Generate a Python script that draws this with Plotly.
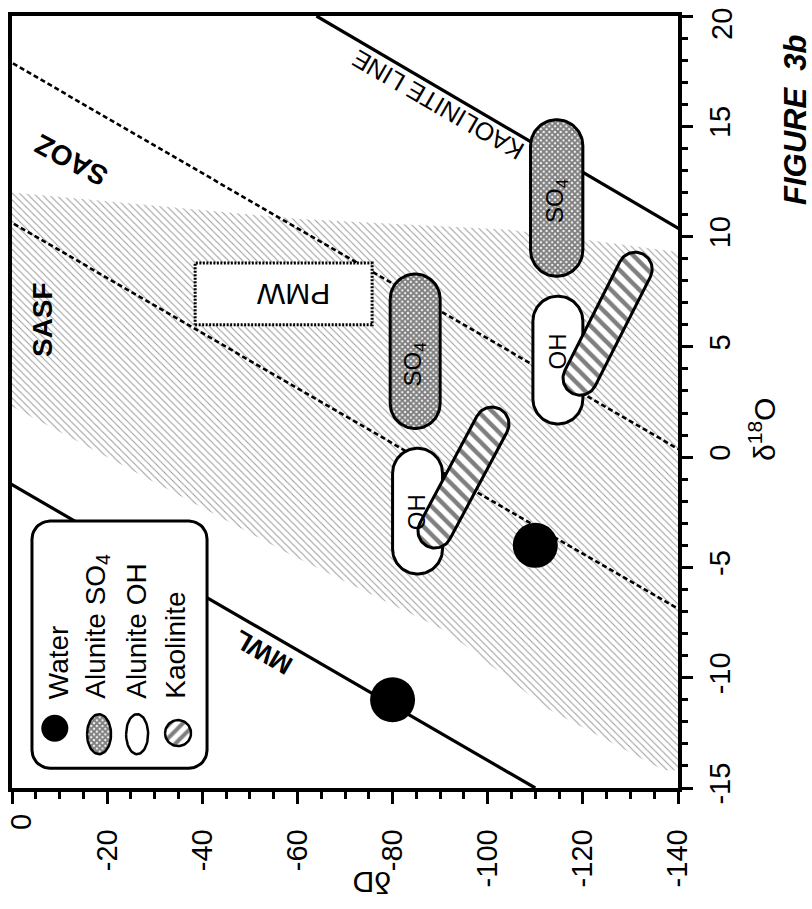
import numpy as np
import plotly.graph_objects as go

# ---------------------------------------------------------------- canvas
FIG_W, FIG_H = 812, 909
M_L, M_R, M_T, M_B = 12, 134, 16, 121
PLOT_W = FIG_W - M_L - M_R
PLOT_H = FIG_H - M_T - M_B

DD_RANGE = [0, -140]        # horizontal axis (deltaD)
D18O_RANGE = [-15, 20]      # vertical axis (delta18O), drawn on the right
KX = PLOT_W / abs(DD_RANGE[1] - DD_RANGE[0])    # px per permil deltaD
KY = PLOT_H / abs(D18O_RANGE[1] - D18O_RANGE[0])  # px per permil delta18O

FONT = "Liberation Sans, Arial, Helvetica, sans-serif"

# ---------------------------------------------------------------- data
DD_TICKS = [0, -20, -40, -60, -80, -100, -120, -140]
DD_TICK_TEXT = ["0", "-20", "-40", "-60", "-80", "-100", "-120", "-140"]
D18O_TICKS = [-15, -10, -5, 0, 5, 10, 15, 20]
D18O_TICK_TEXT = ["-15", "-10", "-5", "0", "5", "10", "15", "20"]

# water compositions
WATER_DD = [-80, -110]
WATER_D18O = [-11, -4]

# reference lines: deltaD = slope * delta18O + intercept
MWL_SLOPE, MWL_INTERCEPT = 8.0, 10.0
KAOL_SLOPE, KAOL_INTERCEPT = 7.9, -222.0
SAOZ_SLOPE, SAOZ_INTERCEPT = 8.0, -143.0
SASF_SLOPE, SASF_INTERCEPT = 8.0, -85.0

# alunite SO4 fields (deltaD range, delta18O range)
SO4_DD = [(-109.0, -120.0), (-79.5, -90.0)]
SO4_D18O = [(8.2, 15.3), (1.3, 8.3)]
# alunite OH fields
OH_DD = [(-80.0, -90.5), (-109.5, -120.0)]
OH_D18O = [(-5.3, 0.4), (1.5, 7.3)]
# kaolinite fields: end points of the elongated field (deltaD, delta18O)
KAOL_DD = [(-88.9, -100.9), (-119.4, -131.0)]
KAOL_D18O = [(-3.35, 1.5), (3.58, 8.52)]
# primary magmatic water box
PMW_DD = (-38.5, -75.7)
PMW_D18O = (6.0, 8.8)
# supergene alunite stippled field outline
STIPPLE_DD = [0, -60.5, -105, -140, -140, -137, -112.5, -91.4, -58.4, 0]
STIPPLE_D18O = [12.0, 10.8, 10.3, 9.3, -14.2, -14.2, -11.4, -7.9, -4.4, 2.3]


# ---------------------------------------------------------------- helpers
def to_px(dd, d18o):
    return np.asarray(dd) * KX, np.asarray(d18o) * KY


def from_px(u, v):
    return np.asarray(u) / KX, np.asarray(v) / KY


def stadium(c1, c2, r, n=40):
    """Capsule outline between two centre points, radius r in pixels."""
    (u1, v1), (u2, v2) = to_px(*c1), to_px(*c2)
    a = np.arctan2(v2 - v1, u2 - u1)
    t = np.linspace(-np.pi / 2, np.pi / 2, n)
    us = np.concatenate([u2 + r * np.cos(a + t), u1 + r * np.cos(a + np.pi + t)])
    vs = np.concatenate([v2 + r * np.sin(a + t), v1 + r * np.sin(a + np.pi + t)])
    us, vs = np.append(us, us[0]), np.append(vs, vs[0])
    return from_px(us, vs)


def field_capsule(dd_rng, d18o_rng):
    r = abs(dd_rng[0] - dd_rng[1]) * KX / 2
    m = (dd_rng[0] + dd_rng[1]) / 2
    lo, hi = min(d18o_rng) + r / KY, max(d18o_rng) - r / KY
    return stadium((m, lo), (m, hi), r)


def ellipse(c, rx, ry, n=60):
    u0, v0 = to_px(*c)
    t = np.linspace(0, 2 * np.pi, n)
    return from_px(u0 + rx * np.cos(t), v0 + ry * np.sin(t))


def rounded_rect(dd_rng, d18o_rng, r, n=12):
    u = sorted(np.asarray(dd_rng) * KX)
    v = sorted(np.asarray(d18o_rng) * KY)
    corners = [(u[1] - r, v[1] - r, 0), (u[0] + r, v[1] - r, np.pi / 2),
               (u[0] + r, v[0] + r, np.pi), (u[1] - r, v[0] + r, 3 * np.pi / 2)]
    us, vs = [], []
    for cu, cv, a0 in corners:
        t = np.linspace(a0, a0 + np.pi / 2, n)
        us.extend(cu + r * np.cos(t))
        vs.extend(cv + r * np.sin(t))
    us.append(us[0]); vs.append(vs[0])
    return from_px(us, vs)


def iso_line(slope, intercept):
    y = np.array(D18O_RANGE, dtype=float)
    return slope * y + intercept, y


fig = go.Figure()

# stippled supergene field
fig.add_trace(go.Scatter(
    x=STIPPLE_DD + [STIPPLE_DD[0]], y=STIPPLE_D18O + [STIPPLE_D18O[0]],
    mode="lines", fill="toself", line=dict(width=0), fillcolor="rgba(0,0,0,0)",
    fillpattern=dict(shape="\\", size=5, solidity=0.2, fgcolor="#333333", bgcolor="white"),
    hoverinfo="skip"))

# dashed SAOZ / SASF boundaries
for s, b in [(SAOZ_SLOPE, SAOZ_INTERCEPT), (SASF_SLOPE, SASF_INTERCEPT)]:
    x, y = iso_line(s, b)
    fig.add_trace(go.Scatter(x=x, y=y, mode="lines",
                             line=dict(color="black", width=2.6, dash="5px,3px"),
                             hoverinfo="skip"))

# meteoric water line and kaolinite line
for s, b in [(MWL_SLOPE, MWL_INTERCEPT), (KAOL_SLOPE, KAOL_INTERCEPT)]:
    x, y = iso_line(s, b)
    fig.add_trace(go.Scatter(x=x, y=y, mode="lines",
                             line=dict(color="black", width=3.2), hoverinfo="skip"))

# PMW box
fig.add_trace(go.Scatter(
    x=[PMW_DD[0], PMW_DD[1], PMW_DD[1], PMW_DD[0], PMW_DD[0]],
    y=[PMW_D18O[0], PMW_D18O[0], PMW_D18O[1], PMW_D18O[1], PMW_D18O[0]],
    mode="lines", fill="toself", fillcolor="white",
    line=dict(color="black", width=3, dash="2px,1.5px"), hoverinfo="skip"))

SO4_PATTERN = dict(shape="x", size=4, solidity=0.75, fgcolor="black", bgcolor="white")
KAOL_PATTERN = dict(shape="\\", size=10, solidity=0.45, fgcolor="black", bgcolor="white")

# alunite SO4 fields
for dd, d18 in zip(SO4_DD, SO4_D18O):
    x, y = field_capsule(dd, d18)
    fig.add_trace(go.Scatter(x=x, y=y, mode="lines", fill="toself",
                             fillcolor="rgba(0,0,0,0)", fillpattern=SO4_PATTERN,
                             line=dict(color="black", width=3), hoverinfo="skip"))

# alunite OH fields
for dd, d18 in zip(OH_DD, OH_D18O):
    x, y = field_capsule(dd, d18)
    fig.add_trace(go.Scatter(x=x, y=y, mode="lines", fill="toself", fillcolor="white",
                             line=dict(color="black", width=3), hoverinfo="skip"))

# kaolinite fields
for dd, d18 in zip(KAOL_DD, KAOL_D18O):
    x, y = stadium((dd[0], d18[0]), (dd[1], d18[1]), 17)
    fig.add_trace(go.Scatter(x=x, y=y, mode="lines", fill="toself",
                             fillcolor="rgba(0,0,0,0)", fillpattern=KAOL_PATTERN,
                             line=dict(color="black", width=3), hoverinfo="skip"))

# waters
fig.add_trace(go.Scatter(x=WATER_DD, y=WATER_D18O, mode="markers",
                         marker=dict(size=45, color="black", line=dict(width=0)),
                         hoverinfo="skip"))

# ---------------------------------------------------------------- legend box
LEG_DD = (-4.2, -41.0)
LEG_D18O = (-2.9, -14.1)
x, y = rounded_rect(LEG_DD, LEG_D18O, 18)
fig.add_trace(go.Scatter(x=x, y=y, mode="lines", fill="toself", fillcolor="white",
                         line=dict(color="black", width=3), hoverinfo="skip"))

fig.add_trace(go.Scatter(x=[-9.0], y=[-12.29], mode="markers",
                         marker=dict(size=27, color="black"), hoverinfo="skip"))
x, y = ellipse((-18.3, -12.56), 12, 20)
fig.add_trace(go.Scatter(x=x, y=y, mode="lines", fill="toself", fillcolor="rgba(0,0,0,0)",
                         fillpattern=SO4_PATTERN, line=dict(color="black", width=2.5),
                         hoverinfo="skip"))
x, y = ellipse((-26.3, -12.56), 11, 20)
fig.add_trace(go.Scatter(x=x, y=y, mode="lines", fill="toself", fillcolor="white",
                         line=dict(color="black", width=2.5), hoverinfo="skip"))
x, y = ellipse((-34.9, -12.51), 13, 13)
fig.add_trace(go.Scatter(x=x, y=y, mode="lines", fill="toself", fillcolor="rgba(0,0,0,0)",
                         fillpattern=dict(shape="/", size=9, solidity=0.45, fgcolor="black",
                                          bgcolor="white"),
                         line=dict(color="black", width=2.5), hoverinfo="skip"))

LEGEND_TEXT = ["Water", "Alunite SO<sub>4</sub>", "Alunite OH", "Kaolinite"]
LEGEND_TEXT_DD = [-9.7, -17.9, -26.1, -34.3]

annotations = []


def label(text, x, y, angle, size, weight="normal", xref="x", yref="y",
          xanchor="center", yanchor="middle", style="normal"):
    annotations.append(dict(
        text=text, x=x, y=y, xref=xref, yref=yref, textangle=angle,
        showarrow=False, xanchor=xanchor, yanchor=yanchor,
        font=dict(family=FONT, size=size, color="black", weight=weight, style=style)))


for t, xd in zip(LEGEND_TEXT, LEGEND_TEXT_DD):
    label(t, xd, -11.06, -90, 28, yanchor="bottom")

# field labels
label("SO<sub>4</sub>", -114.5, 11.6, -90, 24)
label("SO<sub>4</sub>", -84.7, 4.2, -90, 24)
label("OH", -84.9, -2.5, -90, 24)
label("OH", -114.6, 4.8, -90, 24)
label("PMW", -59.1, 7.4, 180, 30)

label("SASF", -6.3, 6.26, -90, 28, weight="bold")
label("SAOZ", -12.4, 13.46, -152, 28, weight="bold")
label("KAOLINITE LINE", -89.6, 15.96, -150, 25)
label("MWL", -52.8, -8.84, -150, 26, weight="bold")


def px_paper(px, py):
    return (px - M_L) / PLOT_W, (FIG_H - M_B - py) / PLOT_H


# the first/last tick labels sit nudged inward from the corner ticks
x_lbl_text = ["" if v == DD_RANGE[0] else t for v, t in zip(DD_TICKS, DD_TICK_TEXT)]
y_lbl_text = ["" if v == D18O_RANGE[1] else t for v, t in zip(D18O_TICKS, D18O_TICK_TEXT)]
label(DD_TICK_TEXT[DD_TICKS.index(DD_RANGE[0])], *px_paper(21, 822), -90, 29,
      xref="paper", yref="paper")
label(D18O_TICK_TEXT[D18O_TICKS.index(D18O_RANGE[1])], *px_paper(722, 24), -90, 29,
      xref="paper", yref="paper")

# axis titles and figure tag
label("δ<sup>18</sup>O", *px_paper(762, 430), -90, 30, xref="paper", yref="paper")
label("δD", *px_paper(372, 883), 180, 30, xref="paper", yref="paper")
label("FIGURE\u00a0 3b", *px_paper(795, 120), -90, 31,
      xref="paper", yref="paper", weight="bold", style="italic")

fig.update_layout(
    width=FIG_W, height=FIG_H,
    margin=dict(l=M_L, r=M_R, t=M_T, b=M_B, pad=0, autoexpand=False),
    paper_bgcolor="white", plot_bgcolor="white",
    showlegend=False,
    annotations=annotations,
    xaxis=dict(
        range=DD_RANGE, autorange=False, showgrid=False, zeroline=False, automargin=False,
        showline=True, linecolor="black", linewidth=3.5, mirror=True,
        tickmode="array", tickvals=DD_TICKS, ticktext=x_lbl_text,
        ticks="outside", ticklen=12, tickwidth=3, tickcolor="black",
        tickangle=-90, ticklabelstandoff=14, ticklabeloverflow="allow",
        tickfont=dict(family=FONT, size=29, color="black"),
        minor=dict(dtick=5, tick0=0, ticks="outside", ticklen=7, tickwidth=2.5,
                   tickcolor="black", showgrid=False),
    ),
    yaxis=dict(
        range=D18O_RANGE, autorange=False, side="right", showgrid=False, zeroline=False,
        automargin=False,
        showline=True, linecolor="black", linewidth=3.5, mirror=True,
        tickmode="array", tickvals=D18O_TICKS, ticktext=y_lbl_text,
        ticks="outside", ticklen=11, tickwidth=3, tickcolor="black",
        tickangle=-90, ticklabelstandoff=2, ticklabeloverflow="allow",
        tickfont=dict(family=FONT, size=29, color="black"),
        minor=dict(dtick=1, tick0=0, ticks="outside", ticklen=6, tickwidth=2.5,
                   tickcolor="black", showgrid=False),
    ),
)

fig.write_html("out.html")
